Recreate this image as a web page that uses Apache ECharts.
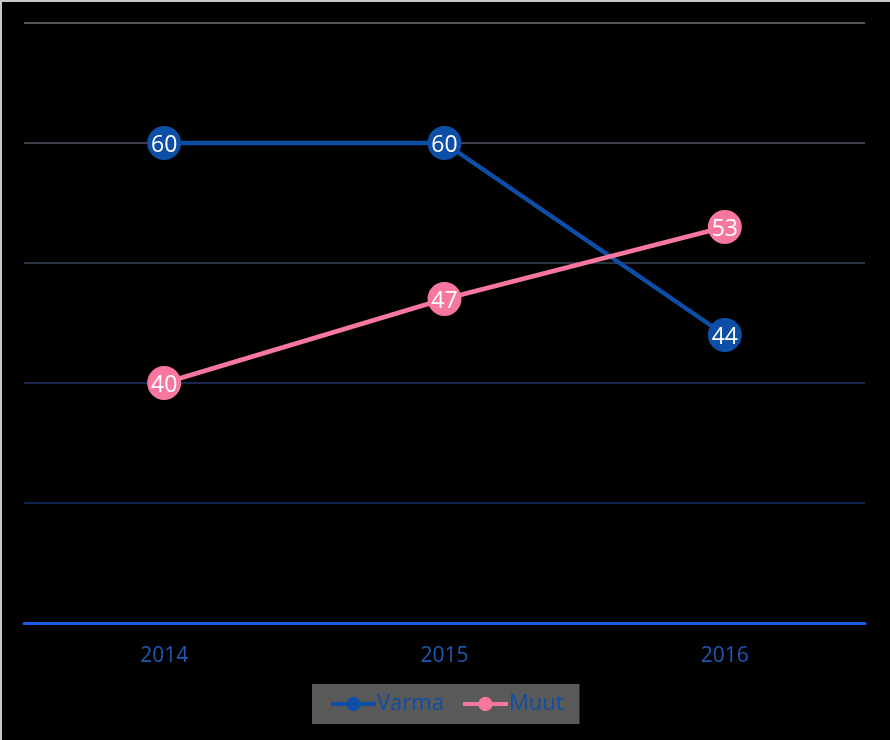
<!DOCTYPE html>
<html><head><meta charset="utf-8">
<script src="https://cdn.jsdelivr.net/npm/echarts@6/dist/echarts.min.js"></script>
<style>
html,body{margin:0;padding:0;background:#000;}
#wrap{position:absolute;left:0;top:0;width:890px;height:740px;background:#000;}
#edge{position:absolute;left:0;top:0;width:888px;height:738px;border-left:2px solid #c8c8c8;border-top:2px solid #c8c8c8;pointer-events:none;z-index:5;}
#c{position:absolute;left:0;top:0;width:890px;height:740px;}
</style></head>
<body><div id="wrap"><div id="c"></div><div id="edge"></div></div>
<script>
const categories = ['2014', '2015', '2016'];
const varma = [60, 60, 44];
const muut = [40, 47, 53];
const seriesNames = ['Varma', 'Muut'];

const chart = echarts.init(document.getElementById('c'), null, {renderer: 'canvas'});
const font = '"Open Sans", "DejaVu Sans", sans-serif';
chart.setOption({
  backgroundColor: '#000',
  animation: false,
  grid: {left: 24, right: 25, top: 23, bottom: 117},
  legend: {
    data: seriesNames,
    left: 312, top: 684,
    backgroundColor: '#595959',
    padding: [9, 16, 9, 17],
    itemWidth: 45, itemHeight: 18, itemGap: 17,
    lineStyle: {width: 4},
    textStyle: {color: '#0d4ea6', fontSize: 22, fontFamily: font, padding: [0,0,0,-4]}
  },
  xAxis: {
    type: 'category', data: categories, boundaryGap: true,
    axisLine: {lineStyle: {color: '#1a5ce6', width: 3}},
    axisTick: {show: false},
    axisLabel: {color: '#1f58b4', fontSize: 21, fontFamily: font, margin: 23}
  },
  yAxis: {
    type: 'value', min: 20, max: 70, interval: 10,
    axisLine: {show: false}, axisTick: {show: false}, axisLabel: {show: false},
    splitLine: {lineStyle: {width: 2, color: ['#1a5ce6', '#0f1f4e', '#1b2650', '#2b3244', '#3e3f48', '#555555']}}
  },
  series: [
    {name: 'Varma', type: 'line', data: varma, symbol: 'circle', symbolSize: 34,
     lineStyle: {color: '#0d4ea6', width: 4.5}, itemStyle: {color: '#0d4ea6'},
     label: {show: true, position: 'inside', color: '#fff', fontSize: 23, fontFamily: font, offset: [0, 2]}},
    {name: 'Muut', type: 'line', data: muut, symbol: 'circle', symbolSize: 34,
     lineStyle: {color: '#f7779e', width: 4.5}, itemStyle: {color: '#f7779e'},
     label: {show: true, position: 'inside', color: '#fff', fontSize: 23, fontFamily: font, offset: [0, 2]}}
  ]
});
</script></body></html>
